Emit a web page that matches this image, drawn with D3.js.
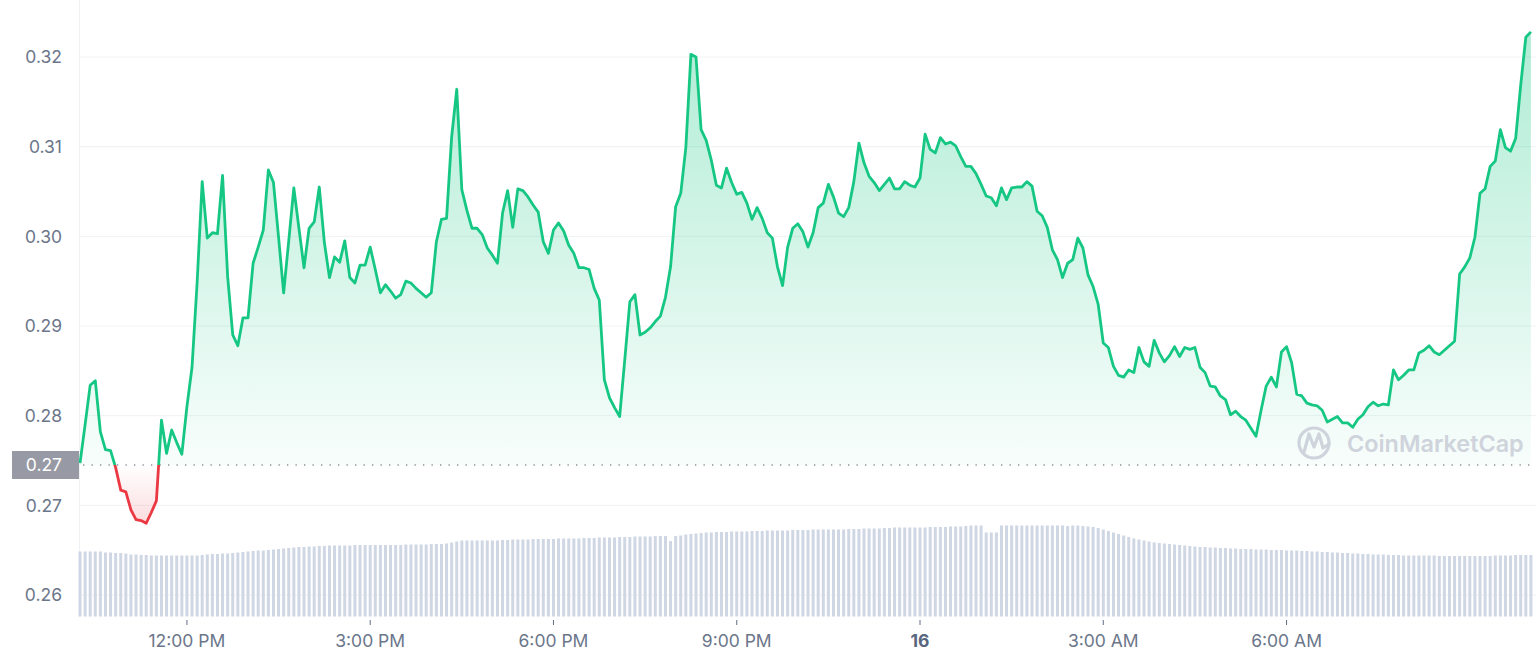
<!DOCTYPE html>
<html>
<head>
<meta charset="utf-8">
<script src="https://cdn.jsdelivr.net/npm/d3@7/dist/d3.min.js"></script>
<style>
  html, body { margin: 0; padding: 0; background: #ffffff; }
  svg { display: block; font-family: Inter, "Noto Sans", sans-serif; }
</style>
</head>
<body>
<svg id="chart" width="1536" height="661"></svg>
<script>
// ---------------- DATA ----------------
const startTime = "2023-05-15T10:15";   // first 5-minute sample
const stepMinutes = 5;
const domainStart = "2023-05-15T10:14";
const domainEnd = "2023-05-16T10:05";

const prices = [
0.2747,0.2790,0.2834,0.2839,0.2782,0.2762,0.2761,0.2742,0.2717,0.2715,
0.2695,0.2684,0.2683,0.2680,0.2692,0.2705,0.2795,0.2758,0.2784,0.2770,
0.2757,0.2810,0.2854,0.2948,0.3061,0.2998,0.3004,0.3003,0.3068,0.2955,
0.2890,0.2878,0.2909,0.2909,0.2970,0.2988,0.3007,0.3074,0.3060,0.2999,
0.2937,0.2995,0.3054,0.3009,0.2965,0.3009,0.3016,0.3055,0.2993,0.2954,
0.2977,0.2971,0.2995,0.2954,0.2948,0.2968,0.2968,0.2988,0.2963,0.2937,
0.2946,0.2939,0.2931,0.2935,0.2950,0.2948,0.2942,0.2937,0.2932,0.2937,
0.2994,0.3019,0.3020,0.3111,0.3164,0.3052,0.3029,0.3009,0.3009,0.3002,
0.2987,0.2979,0.2970,0.3026,0.3051,0.3010,0.3053,0.3051,0.3044,0.3035,
0.3027,0.2994,0.2981,0.3007,0.3015,0.3006,0.2990,0.2981,0.2965,0.2965,
0.2963,0.2942,0.2929,0.2840,0.2820,0.2809,0.2799,0.2862,0.2927,0.2935,
0.2890,0.2893,0.2898,0.2905,0.2911,0.2932,0.2966,0.3033,0.3048,0.3099,
0.3203,0.3200,0.3119,0.3107,0.3085,0.3057,0.3054,0.3076,0.3060,0.3047,
0.3049,0.3037,0.3019,0.3032,0.3020,0.3004,0.2998,0.2966,0.2945,0.2988,
0.3009,0.3014,0.3005,0.2988,0.3004,0.3032,0.3037,0.3058,0.3044,0.3026,
0.3022,0.3032,0.3061,0.3104,0.3082,0.3067,0.3060,0.3051,0.3058,0.3065,
0.3053,0.3053,0.3061,0.3057,0.3055,0.3065,0.3114,0.3097,0.3093,0.3110,
0.3103,0.3105,0.3101,0.3089,0.3078,0.3078,0.3070,0.3058,0.3045,0.3043,
0.3034,0.3054,0.3041,0.3054,0.3055,0.3055,0.3061,0.3056,0.3028,0.3023,
0.3010,0.2985,0.2974,0.2954,0.2970,0.2974,0.2998,0.2987,0.2957,0.2944,
0.2924,0.2881,0.2876,0.2855,0.2845,0.2843,0.2851,0.2848,0.2876,0.2860,
0.2855,0.2884,0.2870,0.2860,0.2867,0.2877,0.2866,0.2876,0.2874,0.2876,
0.2854,0.2848,0.2833,0.2832,0.2822,0.2818,0.2801,0.2805,0.2799,0.2795,
0.2786,0.2777,0.2806,0.2833,0.2843,0.2832,0.2871,0.2877,0.2859,0.2824,
0.2822,0.2814,0.2812,0.2811,0.2806,0.2793,0.2796,0.2799,0.2792,0.2792,
0.2787,0.2796,0.2801,0.2810,0.2815,0.2811,0.2813,0.2812,0.2851,0.2840,
0.2845,0.2851,0.2851,0.2870,0.2873,0.2878,0.2871,0.2868,0.2873,0.2878,
0.2883,0.2958,0.2966,0.2976,0.2999,0.3048,0.3053,0.3078,0.3084,0.3119,
0.3099,0.3095,0.3109,0.3169,0.3222,0.3228
];

const volumes = [
65,65,65,65,65,64,64,63.5,63.5,63,
62,62,61.5,61.5,61,61,61,61,61,61,
61,61,61,61,61.5,62,62.5,62.5,63,63,
63.5,64,64.5,65,65.5,66,66,66.5,67,67.5,
68,68.5,69,69.5,69.5,70,70,70.5,70.5,71,
71,71,71,71,71.5,71.5,71.5,71.5,71.5,71.5,
71.5,71.5,71.5,71.5,72,72,72,72,72,72.5,
72.5,72.5,73,74,75,76,76,76,76,76,
76,76,76,76.5,76.5,77,77,77,77,77.5,
77.5,77.5,77.5,77.5,78,78,78,78,78,78.5,
78.5,78.5,79,79,79,79,79.5,79.5,79.5,80,
80,80,80,80.5,80.5,80.5,75.5,80.5,81,82,
82.5,83,83.5,84,84,84.5,84.5,84.5,85,85,
85,85,85.5,85.5,85.5,86,86,86,86,86,
86.5,86.5,86.5,86.5,87,87,87,87,87,87,
87,87.5,87.5,87.5,88,88,88,88,88.5,88.5,
89,89,89,89,89,89,89,89.5,89.5,89.5,
89.5,90,90,90,90.5,91,91,91,84,84,
84,91,91,91,91,91,91,91,91,91,
91,91,91,91,90.5,91,91,90.5,90,89.5,
88.5,87,85.5,84,82.5,81,79.5,78,77,76,
75,74,73.5,73,72.5,72,71.5,71,70.5,70,
69.5,69.5,69,69,68.5,68.5,68,68,67.5,67.5,
67.5,67,67,67,66.5,66.5,66.5,66,66,66,
65.5,65.5,65,65,64.5,64.5,64,64,63.5,63.5,
63,63,62.5,62.5,62,62,62,61.5,61.5,61.5,
61,61,61,61,61,61,61,60.5,60.5,60.5,
60.5,60.5,60.5,60.5,60.5,60.5,60.5,60.5,61,61,
61,61,61.5,61.5,61.5,61.5
];

const yTickValues = [0.26, 0.27, 0.28, 0.29, 0.30, 0.31, 0.32];
const xTickTimes = ["2023-05-15T12:00","2023-05-15T15:00","2023-05-15T18:00","2023-05-15T21:00","2023-05-16T00:00","2023-05-16T03:00","2023-05-16T06:00"];
const xTickLabels = ["12:00 PM","3:00 PM","6:00 PM","9:00 PM","16","3:00 AM","6:00 AM"];
const openPrice = 0.2745;
const watermark = "CoinMarketCap";

// ---------------- CHART ----------------
const parse = d3.timeParse("%Y-%m-%dT%H:%M");
const t0 = parse(startTime);
const data = prices.map((p, i) => ({
  t: d3.timeMinute.offset(t0, i * stepMinutes),
  p: p,
  v: volumes[i] !== undefined ? volumes[i] : volumes[volumes.length - 1]
}));

const W = 1536, H = 661;
const plotL = 79, plotR = 1536, plotB = 617;
const svg = d3.select("#chart");

const x = d3.scaleTime().domain([parse(domainStart), parse(domainEnd)]).range([plotL, plotR]);
const y = d3.scaleLinear().domain([0.26, 0.32]).range([595, 57]);
const yv = d3.scaleLinear().domain([0, 100]).range([616.5, 516.5]);

const baseY = y(openPrice);

const defs = svg.append("defs");
const gGreen = defs.append("linearGradient").attr("id", "gGreen")
  .attr("gradientUnits", "userSpaceOnUse").attr("x1", 0).attr("x2", 0).attr("y1", 30).attr("y2", baseY);
gGreen.append("stop").attr("offset", 0).attr("stop-color", "#16c784").attr("stop-opacity", 0.34);
gGreen.append("stop").attr("offset", 1).attr("stop-color", "#16c784").attr("stop-opacity", 0.03);
const gRed = defs.append("linearGradient").attr("id", "gRed")
  .attr("gradientUnits", "userSpaceOnUse").attr("x1", 0).attr("x2", 0).attr("y1", baseY).attr("y2", 525);
gRed.append("stop").attr("offset", 0).attr("stop-color", "#ea3943").attr("stop-opacity", 0.0);
gRed.append("stop").attr("offset", 1).attr("stop-color", "#ea3943").attr("stop-opacity", 0.18);

defs.append("clipPath").attr("id", "clipAbove").append("rect")
  .attr("x", 0).attr("y", 0).attr("width", W).attr("height", baseY);
defs.append("clipPath").attr("id", "clipBelow").append("rect")
  .attr("x", 0).attr("y", baseY).attr("width", W).attr("height", H - baseY);

// grid
svg.append("g").selectAll("line").data(yTickValues).join("line")
  .attr("x1", plotL).attr("x2", plotR)
  .attr("y1", d => y(d)).attr("y2", d => y(d))
  .attr("stroke", "#eff2f5").attr("stroke-width", 1);
svg.append("line").attr("x1", plotL + 0.5).attr("x2", plotL + 0.5).attr("y1", 0).attr("y2", plotB)
  .attr("stroke", "#eff2f5").attr("stroke-width", 1);

// volume bars
svg.append("g").selectAll("rect").data(data).join("rect")
  .attr("x", d => x(d.t) - 1.5)
  .attr("width", 3)
  .attr("y", d => yv(d.v))
  .attr("height", d => yv(0) - yv(d.v))
  .attr("fill", "#cfd6e4");

// areas
const area = d3.area().x(d => x(d.t)).y0(baseY).y1(d => y(d.p));
svg.append("path").datum(data).attr("d", area).attr("fill", "url(#gGreen)").attr("clip-path", "url(#clipAbove)");
svg.append("path").datum(data).attr("d", area).attr("fill", "url(#gRed)").attr("clip-path", "url(#clipBelow)");

// watermark
const wm = svg.append("g");
wm.append("circle").attr("cx", 1314).attr("cy", 443).attr("r", 15)
  .attr("fill", "none").attr("stroke", "#cfd3dc").attr("stroke-width", 3.2);
wm.append("path").attr("d", "M1304,452 L1309,434 L1314,447 L1319,434 L1323,448 L1329,444")
  .attr("fill", "none").attr("stroke", "#cfd3dc").attr("stroke-width", 3.2).attr("stroke-linejoin", "round").attr("stroke-linecap", "round");
wm.append("text").attr("x", 1347).attr("y", 452).text(watermark)
  .attr("font-size", 23.4).attr("font-weight", 600).attr("fill", "#cfd3dc");

// baseline dotted
svg.append("line").attr("x1", plotL + 4).attr("x2", plotR).attr("y1", baseY).attr("y2", baseY)
  .attr("stroke", "#8a909c").attr("stroke-width", 1.3).attr("stroke-dasharray", "1.3,7.2");

// lines
const line = d3.line().x(d => x(d.t)).y(d => y(d.p));
svg.append("path").datum(data).attr("d", line).attr("fill", "none")
  .attr("stroke", "#16c784").attr("stroke-width", 2.8).attr("stroke-linejoin", "round")
  .attr("clip-path", "url(#clipAbove)");
svg.append("path").datum(data).attr("d", line).attr("fill", "none")
  .attr("stroke", "#ea3943").attr("stroke-width", 2.8).attr("stroke-linejoin", "round")
  .attr("clip-path", "url(#clipBelow)");

// y labels
const fmt = d3.format(".2f");
svg.append("g").selectAll("text").data(yTickValues).join("text")
  .attr("x", 62).attr("y", d => y(d)).attr("dy", "0.36em")
  .attr("text-anchor", "end").attr("font-size", 17.5).attr("fill", "#6b768a")
  .text(d => fmt(d));

// open price label
svg.append("rect").attr("x", 12).attr("y", baseY - 14).attr("width", plotL - 12).attr("height", 28)
  .attr("fill", "#979aa4");
svg.append("text").attr("x", 62).attr("y", baseY).attr("dy", "0.36em").attr("text-anchor", "end")
  .attr("font-size", 17.5).attr("fill", "#ffffff").text(fmt(openPrice));

// x axis ticks + labels
const xt = xTickTimes.map(parse);
const xg = svg.append("g");
xg.selectAll("line").data(xt).join("line")
  .attr("x1", d => x(d)).attr("x2", d => x(d)).attr("y1", 620).attr("y2", 625)
  .attr("stroke", "#616e85").attr("stroke-width", 1);
xg.selectAll("text").data(xt).join("text")
  .attr("x", d => x(d)).attr("y", 647).attr("text-anchor", "middle")
  .attr("font-size", 17.5)
  .attr("font-weight", (d, i) => xTickLabels[i] === "16" ? 700 : 400)
  .attr("fill", (d, i) => xTickLabels[i] === "16" ? "#58667e" : "#6b768a")
  .text((d, i) => xTickLabels[i]);
</script>
</body>
</html>
